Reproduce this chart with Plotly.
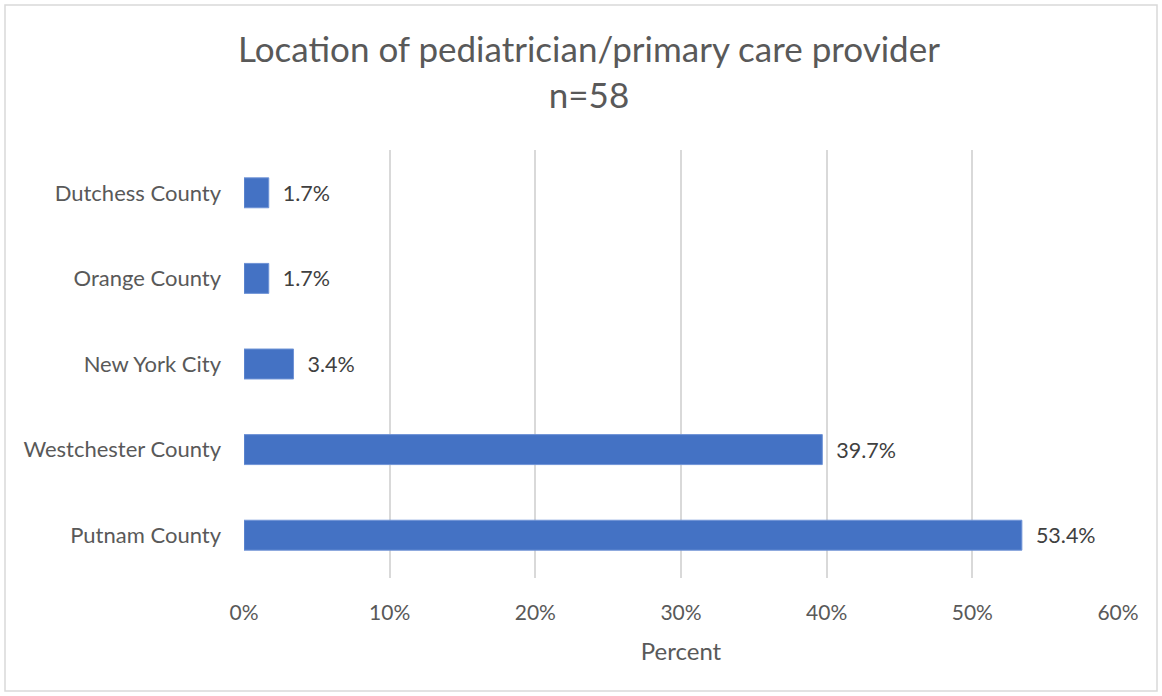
import plotly.graph_objects as go

categories = ["Putnam County", "Westchester County", "New York City", "Orange County", "Dutchess County"]
values = [53.4, 39.7, 3.4, 1.7, 1.7]
labels = ["53.4%", "39.7%", "3.4%", "1.7%", "1.7%"]
tick_vals = [0, 10, 20, 30, 40, 50, 60]
tick_text = ["0%", "10%", "20%", "30%", "40%", "50%", "60%"]

W, H = 1162, 696
ML, MR, MT, MB = 244, 44, 150, 118
FONT = "Lato, Calibri, Carlito, sans-serif"
GREY = "#595959"

fig = go.Figure(go.Bar(
    y=categories, x=values, orientation="h",
    marker=dict(color="#4472C4", line=dict(color="#6F93D6", width=1)),
    width=0.35,
    text=["  " + t for t in labels], textposition="outside",
    textfont=dict(family=FONT, size=21.5, color="#404040"),
    cliponaxis=False,
))

pw, ph = W - ML - MR, H - MT - MB
def px(x): return (x - ML) / pw
def py(y): return (H - MB - y) / ph

fig.add_shape(type="rect", xref="paper", yref="paper",
              x0=px(5), x1=px(1157), y0=py(691), y1=py(5),
              line=dict(color="#D9D9D9", width=1.5), layer="below")

fig.update_layout(
    width=W, height=H,
    margin=dict(l=ML, r=MR, t=MT, b=MB),
    paper_bgcolor="white", plot_bgcolor="white",
    showlegend=False,
    title=dict(text="Location of pediatrician/primary care provider<br>n=58",
               x=589 / W, xref="container", xanchor="center", y=1 - 62/H, yanchor="top",
               font=dict(family=FONT, size=35, color=GREY)),
    xaxis=dict(range=[0, 60], tickvals=tick_vals, ticktext=tick_text,
               showgrid=True, gridcolor="#D9D9D9", gridwidth=1.5,
               zeroline=False, showline=False, ticks="",
               ticklabelstandoff=20,
               tickfont=dict(family=FONT, size=21, color=GREY),
               title=dict(text="Percent", font=dict(family=FONT, size=24, color=GREY), standoff=20)),
    yaxis=dict(showgrid=False, zeroline=False, showline=False, ticks="",
               tickfont=dict(family=FONT, size=22, color=GREY), ticksuffix="    "),
    font=dict(family=FONT),
)

fig.write_html("out.html", config={"displayModeBar": False},
               post_script="document.body.style.margin='0';")
